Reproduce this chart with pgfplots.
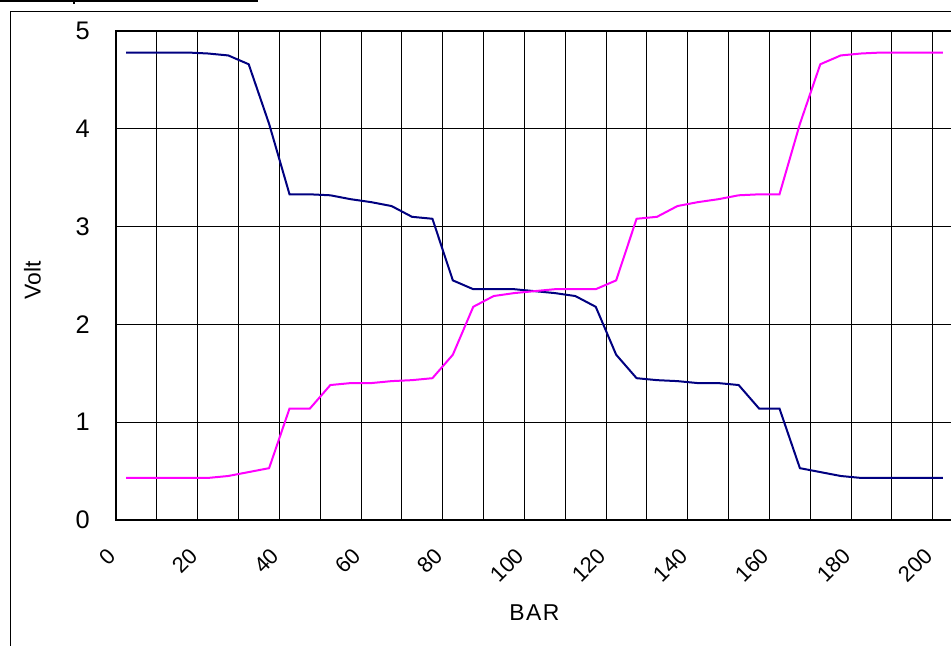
\documentclass[border=0pt]{standalone}
\usepackage{pgfplots}
\pgfplotsset{compat=1.18}
\usepackage{pgfplotstable}
\usepackage{fontspec}
\setmainfont{Liberation Sans}

\definecolor{navyline}{RGB}{0,0,128}
\definecolor{pinkline}{RGB}{255,0,255}

% bar  volt_a  volt_b
\pgfplotstableread{
x     a     b
2.5   4.78  0.43
7.5   4.78  0.43
12.5  4.78  0.43
17.5  4.78  0.43
22.5  4.77  0.43
27.5  4.75  0.45
32.5  4.66  0.49
37.5  4.05  0.53
42.5  3.33  1.14
47.5  3.33  1.14
52.5  3.32  1.38
57.5  3.28  1.40
62.5  3.25  1.40
67.5  3.21  1.42
72.5  3.10  1.43
77.5  3.08  1.45
82.5  2.45  1.69
87.5  2.36  2.18
92.5  2.36  2.29
97.5  2.36  2.32
102.5 2.34  2.34
107.5 2.32  2.36
112.5 2.29  2.36
117.5 2.18  2.36
122.5 1.69  2.45
127.5 1.45  3.08
132.5 1.43  3.10
137.5 1.42  3.21
142.5 1.40  3.25
147.5 1.40  3.28
152.5 1.38  3.32
157.5 1.14  3.33
162.5 1.14  3.33
167.5 0.53  4.05
172.5 0.49  4.66
177.5 0.45  4.75
182.5 0.43  4.77
187.5 0.43  4.78
192.5 0.43  4.78
197.5 0.43  4.78
202.5 0.43  4.78
}\volts

\begin{document}
\begin{tikzpicture}
\useasboundingbox (0,0) rectangle (951bp,646bp);
\clip (0,0) rectangle (951bp,646bp);

% frame of the surrounding page
\draw[line width=1bp] (10.5bp,0) -- (10.5bp,634bp) -- (951bp,634bp);
\draw[line width=1.7bp] (0,645.3bp) -- (258bp,645.3bp);
\draw[line width=1.3bp] (74bp,646bp) -- (74bp,642bp);

\begin{axis}[
  at={(116bp,126bp)}, anchor=south west,
  scale only axis,
  width=837bp, height=489bp,
  xmin=0, xmax=205,
  ymin=0, ymax=5,
  xtick={0,20,...,200},
  minor xtick={10,30,...,190},
  ytick={0,1,...,5},
  xmajorgrids, xminorgrids, ymajorgrids,
  grid style={black, line width=0.8bp},
  minor grid style={black, line width=0.8bp},
  major tick length=0pt, minor tick length=0pt,
  axis line style={line width=1.4bp},
  /pgf/number format/assume math mode=true,
  xticklabel style={font=\fontsize{22}{22}\selectfont, xshift=-4bp, yshift=-32bp, rotate=45, anchor=east, inner sep=0pt},
  yticklabel style={font=\fontsize{25.5}{25.5}\selectfont, anchor=east, inner sep=0pt, xshift=-26bp},
  every axis x label/.style={at={(axis description cs:0.5,0)}, yshift=-93bp, anchor=center, font=\fontsize{23}{23}\selectfont},
  every axis y label/.style={at={(axis description cs:0,0.5)}, xshift=-83.5bp, yshift=-4.5bp, rotate=90, anchor=center, font=\fontsize{23}{23}\selectfont},
  xlabel={B\kern1.5bp A\kern1.5bp R},
  ylabel={Volt},
]
\addplot[navyline, line width=2bp, no markers] table[x=x, y=a] {\volts};
\addplot[pinkline, line width=2bp, no markers] table[x=x, y=b] {\volts};
\end{axis}
\end{tikzpicture}
\end{document}
